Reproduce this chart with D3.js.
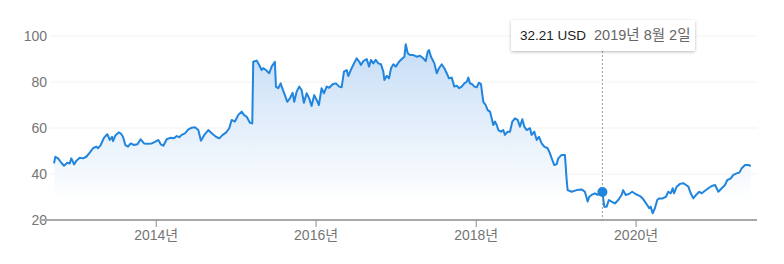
<!DOCTYPE html>
<html>
<head>
<meta charset="utf-8">
<script src="https://d3js.org/d3.v7.min.js"></script>
<style>
  body { margin: 0; background: #fff; }
  svg text { font-family: Arial, "Liberation Sans", "Noto Sans CJK KR", sans-serif; }
  .axis text { fill: #757575; font-size: 14px; }
</style>
</head>
<body>
<svg id="chart" width="784" height="264"></svg>
<script>
// decimal years
var times = [
  2012.729, 2012.745, 2012.779, 2012.820, 2012.854, 2012.895, 2012.925, 2012.945, 2012.979, 2013.007,
  2013.050, 2013.091, 2013.132, 2013.175, 2013.216, 2013.257, 2013.279, 2013.312, 2013.354, 2013.395,
  2013.425, 2013.454, 2013.466, 2013.495, 2013.537, 2013.562, 2013.591, 2013.620, 2013.654, 2013.687,
  2013.729, 2013.770, 2013.812, 2013.854, 2013.895, 2013.950, 2013.991, 2014.033, 2014.063, 2014.095,
  2014.138, 2014.188, 2014.229, 2014.263, 2014.295, 2014.325, 2014.366, 2014.408, 2014.450, 2014.491,
  2014.533, 2014.566, 2014.608, 2014.658, 2014.700, 2014.754, 2014.795, 2014.838, 2014.879, 2014.920,
  2014.950, 2014.991, 2015.033, 2015.075, 2015.104, 2015.138, 2015.179, 2015.208, 2015.220, 2015.263,
  2015.295, 2015.325, 2015.345, 2015.379, 2015.420, 2015.450, 2015.491, 2015.504, 2015.533, 2015.563,
  2015.583, 2015.616, 2015.645, 2015.679, 2015.713, 2015.733, 2015.763, 2015.795, 2015.825, 2015.854,
  2015.888, 2015.920, 2015.950, 2015.983, 2016.013, 2016.041, 2016.075, 2016.104, 2016.138, 2016.170,
  2016.213, 2016.254, 2016.295, 2016.325, 2016.354, 2016.388, 2016.408, 2016.450, 2016.479, 2016.513,
  2016.545, 2016.566, 2016.595, 2016.638, 2016.666, 2016.691, 2016.720, 2016.750, 2016.783, 2016.816,
  2016.845, 2016.858, 2016.888, 2016.916, 2016.941, 2016.970, 2017.000, 2017.041, 2017.075, 2017.108,
  2017.125, 2017.150, 2017.179, 2017.220, 2017.263, 2017.304, 2017.345, 2017.375, 2017.400, 2017.416,
  2017.441, 2017.483, 2017.513, 2017.541, 2017.575, 2017.608, 2017.638, 2017.666, 2017.700, 2017.733,
  2017.763, 2017.791, 2017.825, 2017.858, 2017.888, 2017.908, 2017.929, 2017.958, 2017.983, 2018.013,
  2018.041, 2018.066, 2018.095, 2018.125, 2018.150, 2018.179, 2018.200, 2018.220, 2018.241, 2018.263,
  2018.283, 2018.316, 2018.345, 2018.366, 2018.400, 2018.429, 2018.458, 2018.491, 2018.525, 2018.554,
  2018.583, 2018.608, 2018.638, 2018.679, 2018.700, 2018.733, 2018.763, 2018.791, 2018.825, 2018.858,
  2018.900, 2018.929, 2018.958, 2018.983, 2019.013, 2019.033, 2019.075, 2019.116, 2019.138, 2019.150,
  2019.200, 2019.263, 2019.325, 2019.366, 2019.400, 2019.420, 2019.450, 2019.491, 2019.525, 2019.554,
  2019.585, 2019.608, 2019.638, 2019.666, 2019.700, 2019.741, 2019.783, 2019.825, 2019.845, 2019.875,
  2019.916, 2019.958, 2020.000, 2020.054, 2020.088, 2020.116, 2020.145, 2020.170, 2020.188, 2020.213,
  2020.241, 2020.270, 2020.295, 2020.338, 2020.379, 2020.408, 2020.438, 2020.463, 2020.479, 2020.513,
  2020.554, 2020.595, 2020.629, 2020.658, 2020.688, 2020.720, 2020.754, 2020.795, 2020.825, 2020.866,
  2020.908, 2020.950, 2020.991, 2021.033, 2021.075, 2021.116, 2021.145, 2021.188, 2021.220, 2021.263,
  2021.295, 2021.325, 2021.366, 2021.408, 2021.438
];
// closing price, USD
var prices = [
  44.6, 47.5, 46.8, 44.9, 43.6, 44.9, 44.6, 46.8, 44.2, 45.7,
  47.1, 46.8, 47.5, 49.3, 51.2, 51.9, 51.2, 52.6, 55.8, 57.3,
  54.8, 56.2, 54.3, 56.7, 58.1, 57.7, 56.2, 52.6, 51.9, 53.3,
  52.6, 52.9, 55.1, 53.3, 53.2, 53.3, 54.0, 54.8, 52.9, 52.3,
  55.1, 55.8, 55.5, 56.5, 56.0, 57.0, 57.7, 59.4, 60.1, 60.3,
  59.1, 54.5, 57.0, 59.1, 57.7, 56.2, 55.5, 57.0, 58.0, 59.9,
  63.5, 62.8, 65.7, 67.1, 65.7, 64.9, 62.3, 62.0, 88.8, 89.3,
  87.4, 85.2, 86.0, 85.2, 83.8, 86.7, 88.8, 78.0, 77.3, 79.4,
  77.3, 74.3, 71.4, 72.9, 75.3, 71.4, 75.8, 78.0, 76.5, 71.0,
  75.1, 72.9, 69.6, 74.3, 72.2, 70.0, 77.3, 75.1, 78.0, 77.5,
  79.0, 79.4, 78.0, 77.7, 84.5, 85.2, 82.6, 86.0, 88.1, 90.3,
  88.8, 87.4, 89.1, 90.0, 86.7, 89.6, 88.1, 89.6, 88.1, 87.7,
  84.5, 80.9, 82.7, 81.6, 86.0, 87.7, 86.7, 88.8, 90.0, 91.0,
  96.4, 92.5, 91.7, 91.7, 91.0, 91.4, 90.3, 89.1, 93.2, 93.9,
  91.0, 88.1, 83.8, 86.0, 87.7, 86.0, 83.8, 81.6, 81.9, 78.0,
  78.4, 77.3, 78.0, 79.4, 80.1, 81.9, 79.4, 79.0, 78.0, 77.7,
  79.7, 79.1, 71.4, 70.0, 67.8, 67.1, 64.2, 61.3, 62.8, 61.3,
  59.1, 58.4, 59.1, 57.0, 58.4, 58.4, 62.8, 64.2, 63.5, 60.6,
  63.8, 60.6, 59.1, 59.9, 57.0, 58.4, 54.8, 56.2, 53.3, 51.9,
  51.2, 49.0, 46.1, 43.9, 44.3, 46.8, 48.3, 48.3, 37.4, 33.0,
  32.3, 33.0, 33.3, 32.3, 28.0, 30.1, 30.9, 31.6, 30.9, 32.3,
  32.21, 25.8, 25.8, 28.7, 28.0, 27.2, 28.7, 30.9, 33.0, 30.9,
  31.3, 32.3, 31.3, 30.4, 29.4, 28.0, 26.5, 25.1, 25.8, 22.9,
  25.1, 28.7, 29.4, 29.4, 30.1, 32.3, 31.6, 33.8, 31.6, 34.5,
  35.7, 36.0, 35.2, 34.5, 31.6, 29.4, 30.9, 32.3, 31.6, 32.7,
  33.8, 34.8, 35.2, 32.3, 33.8, 35.2, 37.4, 38.1, 39.6, 40.3,
  40.6, 42.5, 43.9, 43.9, 43.5
];
var yTicks = [20, 40, 60, 80, 100];
var xTickYears = [2014, 2016, 2018, 2020];
var hoverIndex = 210; // 2019-08-02
var hoverPrice = "32.21 USD";
var hoverDate = "2019년 8월 2일";

function toDate(t) {
  var yr = Math.floor(t);
  var a = new Date(yr, 0, 1), b = new Date(yr + 1, 0, 1);
  return new Date(+a + (t - yr) * (b - a));
}

var data = times.map(function(t, i) { return { date: toDate(t), value: prices[i] }; });

var svg = d3.select("#chart");
var plotLeft = 40, plotRight = 757, plotTop = 36, plotBottom = 220;

var x = d3.scaleTime()
  .domain([toDate(2012.554), toDate(2021.516)])
  .range([plotLeft, plotRight]);
var y = d3.scaleLinear().domain([20, 100]).range([plotBottom, plotTop]);

var defs = svg.append("defs");
var grad = defs.append("linearGradient")
  .attr("id", "fill")
  .attr("gradientUnits", "userSpaceOnUse")
  .attr("x1", 0).attr("x2", 0)
  .attr("y1", y(96)).attr("y2", y(28));
grad.append("stop").attr("offset", 0).attr("stop-color", "#c6ddf6");
grad.append("stop").attr("offset", 1).attr("stop-color", "#ffffff");

var sh = defs.append("filter").attr("id", "shadow")
  .attr("x", "-10%").attr("y", "-30%").attr("width", "120%").attr("height", "170%");
sh.append("feDropShadow").attr("dx", 0).attr("dy", 1).attr("stdDeviation", 1.5)
  .attr("flood-color", "#000").attr("flood-opacity", 0.28);

// grid lines
svg.append("g").selectAll("line")
  .data(yTicks.filter(function(d) { return d > 20; }))
  .enter().append("line")
  .attr("x1", 50).attr("x2", plotRight)
  .attr("y1", function(d) { return y(d); })
  .attr("y2", function(d) { return y(d); })
  .attr("stroke", "#f2f2f2")
  .attr("stroke-width", 1);

// area + line
var area = d3.area()
  .x(function(d) { return x(d.date); })
  .y0(plotBottom)
  .y1(function(d) { return y(d.value); });
svg.append("path").datum(data)
  .attr("d", area)
  .attr("fill", "url(#fill)");

var line = d3.line()
  .x(function(d) { return x(d.date); })
  .y(function(d) { return y(d.value); });
svg.append("path").datum(data)
  .attr("d", line)
  .attr("fill", "none")
  .attr("stroke", "#2185de")
  .attr("stroke-width", 2)
  .attr("stroke-linejoin", "round");

// y labels
var yAxis = svg.append("g").attr("class", "axis")
  .attr("transform", "translate(" + 47 + ",0)")
  .call(d3.axisLeft(y).tickValues(yTicks).tickSize(0).tickPadding(0));
yAxis.select(".domain").remove();

// x axis
var xAxis = svg.append("g").attr("class", "axis")
  .attr("transform", "translate(0," + plotBottom + ")")
  .call(d3.axisBottom(x)
    .tickValues(xTickYears.map(function(yr) { return new Date(yr, 0, 1); }))
    .tickFormat(d3.timeFormat("%Y년"))
    .tickSize(7).tickPadding(3));
xAxis.select(".domain").attr("stroke", "#a8a8a8").attr("stroke-width", 2)
  .attr("d", "M" + plotLeft + ",0H" + plotRight);
xAxis.selectAll(".tick line").attr("stroke", "#8a8a8a");

// hover marker
var hp = data[hoverIndex];
var hx = x(hp.date), hy = y(hp.value);
svg.append("line")
  .attr("x1", hx).attr("x2", hx)
  .attr("y1", 51).attr("y2", plotBottom)
  .attr("stroke", "#9e9e9e")
  .attr("stroke-dasharray", "2,2")
  .attr("stroke-width", 1);
svg.append("circle")
  .attr("cx", hx).attr("cy", hy).attr("r", 5)
  .attr("fill", "#2185de");

// tooltip
var tip = svg.append("g").attr("transform", "translate(511,20)");
tip.append("rect")
  .attr("width", 184).attr("height", 31).attr("rx", 2)
  .attr("fill", "#fff")
  .attr("filter", "url(#shadow)");
var tt = tip.append("text").attr("x", 9).attr("y", 20).attr("font-size", 13.5);
tt.append("tspan").attr("fill", "#222").text(hoverPrice);
tt.append("tspan").attr("fill", "#666").attr("font-size", 14.5).attr("dx", 8).text(hoverDate);
</script>
</body>
</html>
